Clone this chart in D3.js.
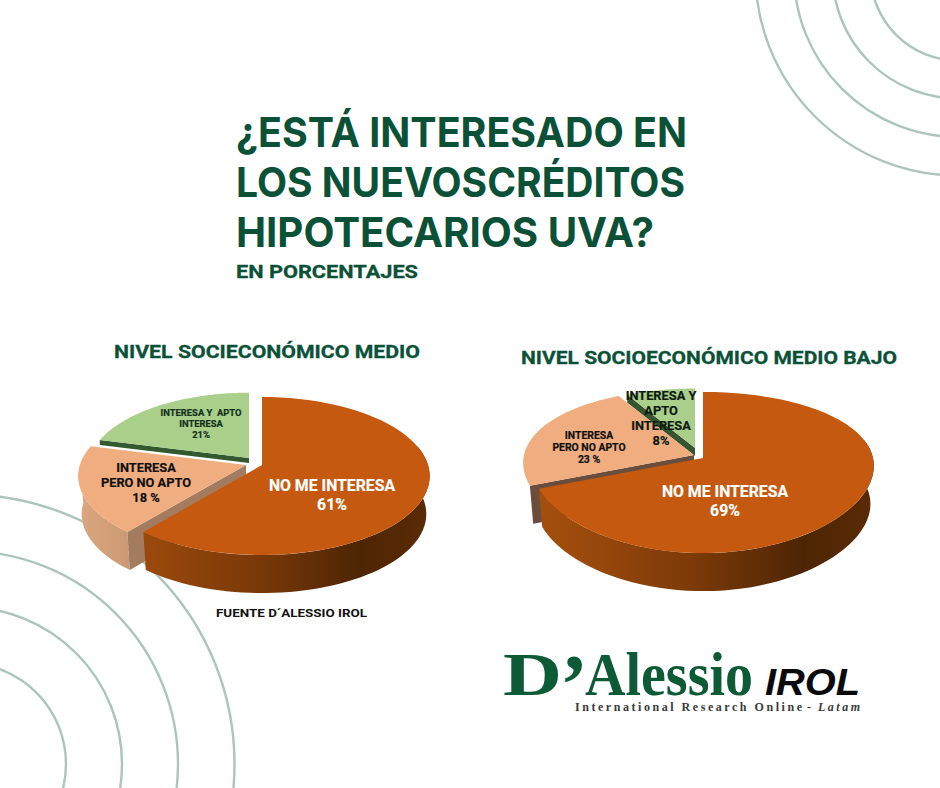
<!DOCTYPE html>
<html><head><meta charset="utf-8">
<script src="https://cdn.jsdelivr.net/npm/d3@7"></script>
<style>html,body{margin:0;padding:0;background:#fff}svg{display:block}</style>
</head><body><svg id="c" width="940" height="788"></svg>
<script>
const titleLines = ["¿ESTÁ INTERESADO EN","LOS NUEVOSCRÉDITOS","HIPOTECARIOS UVA?"];
const subtitle = "EN PORCENTAJES";
const source = "FUENTE D´ALESSIO IROL";
const categories = ["NO ME INTERESA","INTERESA PERO NO APTO","INTERESA Y APTO INTERESA"];
const valuesMedio = [61,18,21];
const valuesMedioBajo = [69,23,8];
const labelsMedio = [["NO ME INTERESA","61%"],["INTERESA","PERO NO APTO","18 %"],["INTERESA Y  APTO","INTERESA","21%"]];
const labelsMedioBajo = [["NO ME INTERESA","69%"],["INTERESA","PERO NO APTO","23 %"],["INTERESA Y","APTO","INTERESA","8%"]];

const svg = d3.select("#c");
const defs = svg.append("defs");
const GREEN="#0b5138", FONT="Inter, Roboto, sans-serif", LF="Roboto, sans-serif";

// decorative rings
const ringsG = svg.append("g").attr("fill","none").attr("stroke","#abc5bd").attr("stroke-width",2.4);
[[958,-27,[87.5,125.5,164,202.6]],[-35,764,[101,157,213,269.5]]].forEach(([x,y,rs])=>{
  ringsG.selectAll(null).data(rs).enter().append("circle").attr("cx",x).attr("cy",y).attr("r",d=>d);
});

function text(g,str,x,y,size,fill,opt={}){
  const t=g.append("text").attr("x",x).attr("y",y).attr("font-size",size).attr("fill",fill)
    .attr("font-family",opt.font||LF).attr("font-weight",opt.weight||700)
    .attr("text-anchor",opt.anchor||"start").attr("xml:space","preserve").text(str);
  if(opt.style) t.attr("font-style",opt.style);
  if(opt.len) t.attr("textLength",opt.len).attr("lengthAdjust",opt.adjust||"spacingAndGlyphs");
  if(opt.heavy) t.attr("stroke",fill).attr("stroke-width",opt.heavy);
  return t;
}
// headings
[147,197,247].forEach((y,i)=>text(svg,titleLines[i],236,y,41,GREEN,{font:FONT,len:[451,449,418][i]}));
text(svg,subtitle,236,278,18.5,GREEN,{len:182,heavy:0.3});
text(svg,"NIVEL SOCIECONÓMICO MEDIO",114,358,18.5,GREEN,{len:306,heavy:0.3});
text(svg,"NIVEL SOCIOECONÓMICO MEDIO BAJO",521,364,18.5,GREEN,{len:376,heavy:0.3});
text(svg,source,216,617,11.5,"#111",{len:151});

const pie=d3.pie().sort(null).startAngle(0).endAngle(2*Math.PI);
const lineGen=d3.line();

function drawPie(id,values,labels,cfg){
  const g=svg.append("g");
  const arcs=pie(values);
  const proj=(slice,a,dy=0,inset=1)=>{
    const u=Math.sin(a),v=-Math.cos(a),s=1/(1-cfg.k*v),sx=1/(1-cfg.kx*v);
    return [slice.x+cfg.rx*slice.r*u*sx*inset, slice.y+cfg.ry*slice.r*v*s+dy];
  };
  const rim=(slice,a0,a1,dy=0,inset=1)=>d3.range(0,61).map(i=>proj(slice,a0+(a1-a0)*i/60,dy,inset));
  const top=(slice,d)=>lineGen([[slice.x,slice.y],...rim(slice,d.startAngle,d.endAngle)])+"Z";
  const wallOuter=(slice,a0,a1)=>lineGen([...rim(slice,a0,a1),...rim(slice,a0,a1,cfg.depth,cfg.inset).reverse()])+"Z";
  const wallCut=(slice,a,dep,inset=1)=>{const p=proj(slice,a),q=proj(slice,a,dep,inset);
    return lineGen([[slice.x,slice.y],p,q,[slice.x,slice.y+dep]])+"Z";};
  const grad=(name,x0,x1,stops)=>{
    const lg=defs.append("linearGradient").attr("id",id+name).attr("gradientUnits","userSpaceOnUse")
      .attr("x1",x0).attr("x2",x1).attr("y1",0).attr("y2",0);
    stops.forEach(([o,c])=>lg.append("stop").attr("offset",o).attr("stop-color",c));
    return `url(#${id+name})`;
  };
  const [o,p,gr]=arcs, [so,sp,sg]=cfg.slices;
  // green slice
  g.append("path").attr("d",wallCut(sg,gr.startAngle,cfg.greenWall)).attr("fill",cfg.greenWallColor);
  g.append("path").attr("d",top(sg,gr)).attr("fill","#a9cf8b");
  // peach slice
  if(cfg.peachWall){
    g.append("path").attr("d",wallOuter(sp,p.startAngle,Math.min(p.endAngle,Math.PI*1.5)))
      .attr("fill",grad("pw",sp.x-cfg.rx,sp.x-cfg.rx+70,[[0,"#dba67f"],[1,"#c4946f"]]));
  }
  g.append("path").attr("d",wallCut(sp,p.startAngle,cfg.depth,cfg.inset)).attr("fill",cfg.cutColor);
  g.append("path").attr("d",top(sp,p)).attr("fill","#f0ad80");
  // orange slice
  g.append("path").attr("d",wallOuter(so,Math.PI*0.42,o.endAngle))
    .attr("fill",grad("ow",so.x-cfg.rx-10,so.x+cfg.rx,[[0,"#a5500f"],[0.12,"#a04c0d"],[0.5,"#7a3908"],[0.8,"#4e2504"],[1,"#5a2b05"]]));
  g.append("path").attr("d",top(so,o)).attr("fill","#c4590f");
  // labels
  cfg.labels.forEach((l,i)=>{
    labels[i].forEach((s,j)=>text(g,s,l.x,l.ys[j],l.size,l.color,{anchor:"middle",heavy:0.2}));
  });
}

drawPie("a",valuesMedio,labelsMedio,{
  rx:166,ry:77.5,k:0.139,kx:0.14,depth:38,inset:0.98,greenWall:5,greenWallColor:"#33592f",cutColor:"#a37c60",peachWall:true,
  slices:[{x:262,y:465,r:1},{x:246,y:465,r:1},{x:249,y:458,r:0.96}],
  labels:[{x:332,ys:[491,510],size:15.8,color:"#fff"},
          {x:146,ys:[472,487,502],size:12.8,color:"#111"},
          {x:201,ys:[416,427,438],size:9.4,color:"#13301c"}]
});
drawPie("b",valuesMedioBajo,labelsMedioBajo,{
  rx:170,ry:78,k:0.18,kx:0.1,depth:38,inset:0.98,greenWall:8,greenWallColor:"#34552f",cutColor:"#6a4d3b",peachWall:false,
  slices:[{x:703,y:458,r:1},{x:694,y:455,r:1},{x:695,y:448,r:0.9}],
  labels:[{x:725,ys:[497,516],size:15.8,color:"#fff"},
          {x:589,ys:[439,451,463],size:10.4,color:"#111"},
          {x:661,ys:[400,415,430,445],size:12.8,color:"#0c1a10"}]
});

// logo wordmark
const logo=svg.append("g"), SERIF="'Liberation Serif',serif";
text(logo,"D",503,695,61,"#0d5a36",{font:SERIF,len:59});
text(logo,"’",560,713,84,"#0d5a36",{font:SERIF});
text(logo,"Alessio",585,695,61,"#0d5a36",{font:SERIF,len:168});
text(logo,"IROL",765,695,37,"#0a0a0a",{font:"'Liberation Sans',sans-serif",style:"italic",len:95});
text(logo,"International Research Online",575,711,12,"#3a3a3a",{font:SERIF,len:227,adjust:"spacing"});
text(logo,"-",807,711,12,"#3a3a3a",{font:SERIF});
text(logo,"Latam",818,711,12,"#3a3a3a",{font:SERIF,style:"italic",len:42,adjust:"spacing"});
</script></body></html>
